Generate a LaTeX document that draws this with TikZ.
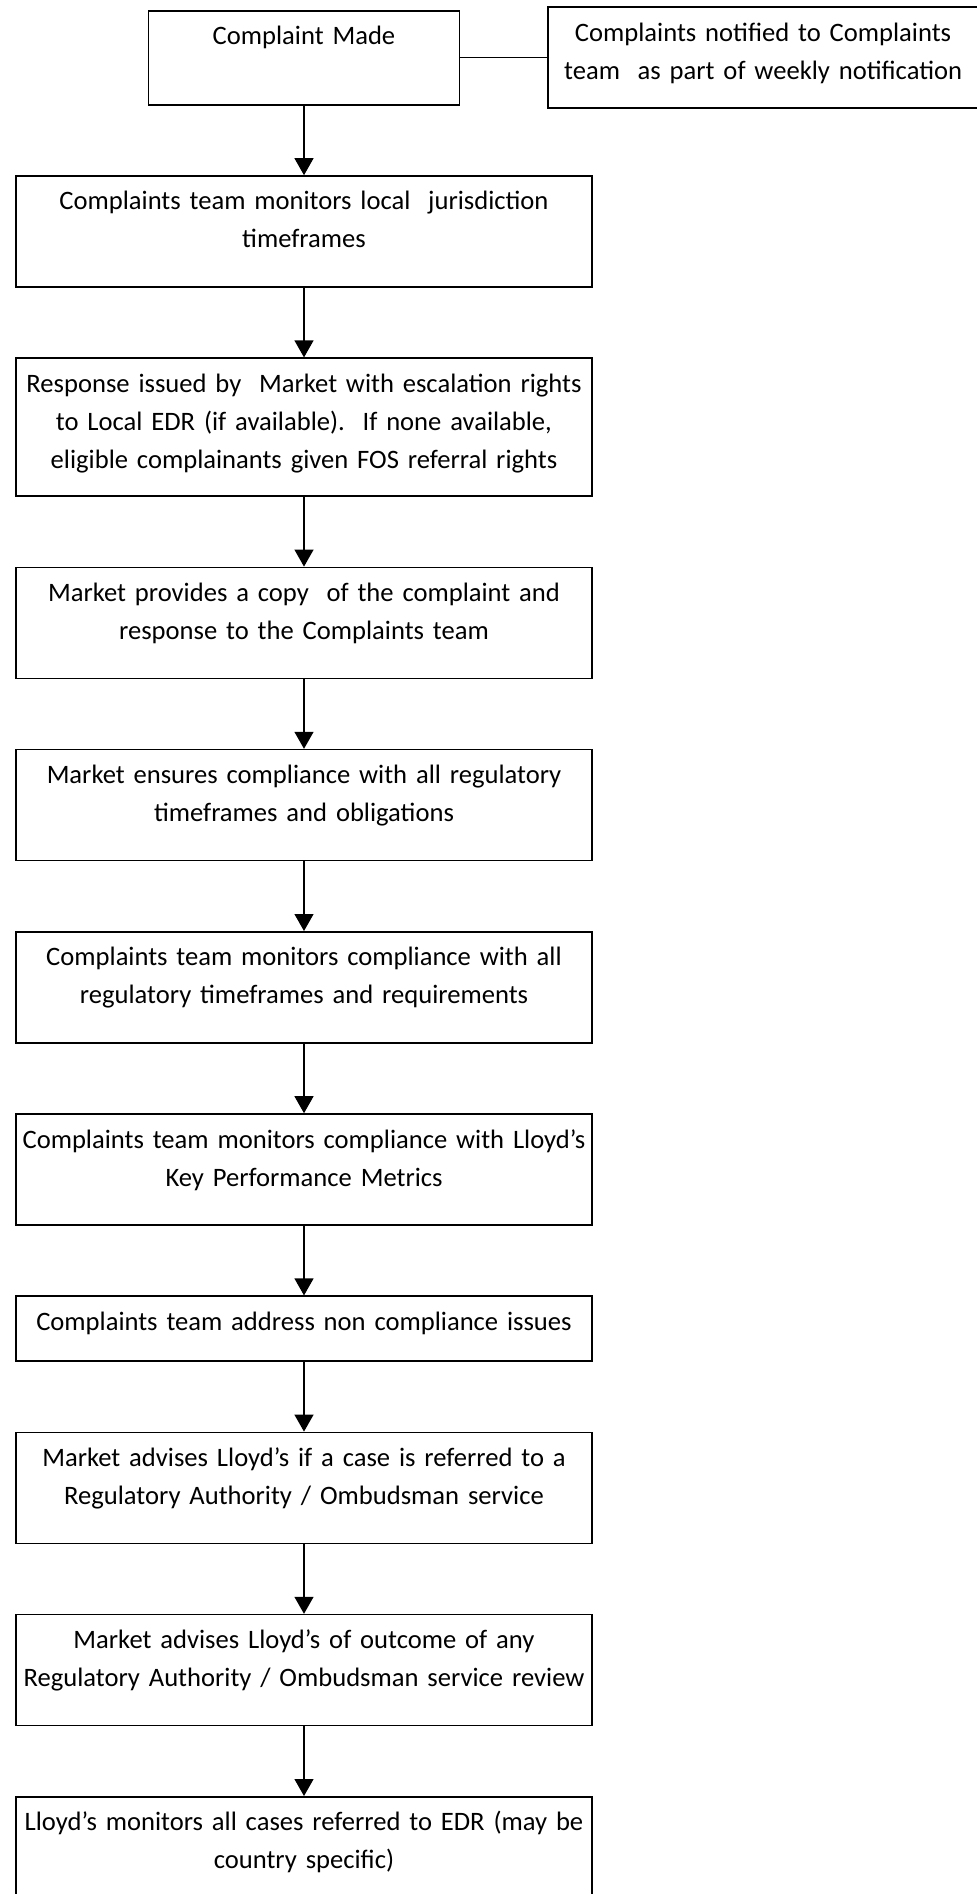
\documentclass[tikz,border=0pt]{standalone}
\usepackage{fontspec}
\setmainfont{Carlito}
\usepackage{tikz}
\usetikzlibrary{shapes,
                arrows.meta,
                positioning}
\tikzstyle{process} = [rectangle, draw=black, line width=0.8pt, text width=284pt, inner xsep=2pt, inner ysep=0pt, align=center, text height=17pt, text depth=38.5pt, font=\fontsize{13.3}{19}\selectfont]
\tikzstyle{arrow} = [line width=0.6pt,->,>={Triangle[length=8.5pt,width=9.5pt]}]
\tikzstyle{link} = [line width=0.6pt]

\begin{document}
\begin{tikzpicture}[node distance=34.8pt]
        \useasboundingbox (0,0) rectangle (488pt,-947pt);
        	\node (made) [process, anchor=north, text width=151.5pt, text depth=30pt] at (152pt,-5pt) {Complaint Made};
			\node (notified) [process, right=43.5pt of made, text width=211pt, text depth=33.5pt] {Complaints notified to Complaints\\ team\ \ as part of weekly notification};
			\node (monitor) [process, below=of made] {Complaints team monitors local\ \ jurisdiction\\ timeframes};
			\node (response) [process, below=of monitor, text depth=52pt] {Response issued by\ \ Market with escalation rights\\ to Local EDR (if available).\ \ If none available,\\ eligible complainants given FOS referral rights};
			\node (copy) [process, below=of response] {Market provides a copy\ \ of the complaint and\\ response to the Complaints team};
			\node (ensure) [process, below=of copy] {Market ensures compliance with all regulatory\\ timeframes and obligations};
			\node (regul) [process, below=of ensure] {Complaints team monitors compliance with all\\ regulatory timeframes and requirements};
			\node (kpm) [process, below=of regul] {Complaints team monitors compliance with Lloyd’s\\ Key Performance Metrics};
			\node (address) [process, below=of kpm, text depth=15.5pt] {Complaints team address non compliance issues};
			\node (referred) [process, below=of address] {Market advises Lloyd’s if a case is referred to a\\ Regulatory Authority / Ombudsman service};
			\node (outcome) [process, below=of referred] {Market advises Lloyd’s of outcome of any\\ Regulatory Authority / Ombudsman service review};
			\node (edr) [process, below=of outcome] {Lloyd’s monitors all cases referred to EDR (may be\\ country specific)};
			\draw [link] (made) -- (notified);
			\draw [arrow] (made) -- (monitor);
			\draw [arrow] (monitor) -- (response);
			\draw [arrow] (response) -- (copy);
			\draw [arrow] (copy) -- (ensure);
			\draw [arrow] (ensure) -- (regul);
			\draw [arrow] (regul) -- (kpm);
			\draw [arrow] (kpm) -- (address);
			\draw [arrow] (address) -- (referred);
			\draw [arrow] (referred) -- (outcome);
			\draw [arrow] (outcome) -- (edr);
			%
\end{tikzpicture}
\end{document}
